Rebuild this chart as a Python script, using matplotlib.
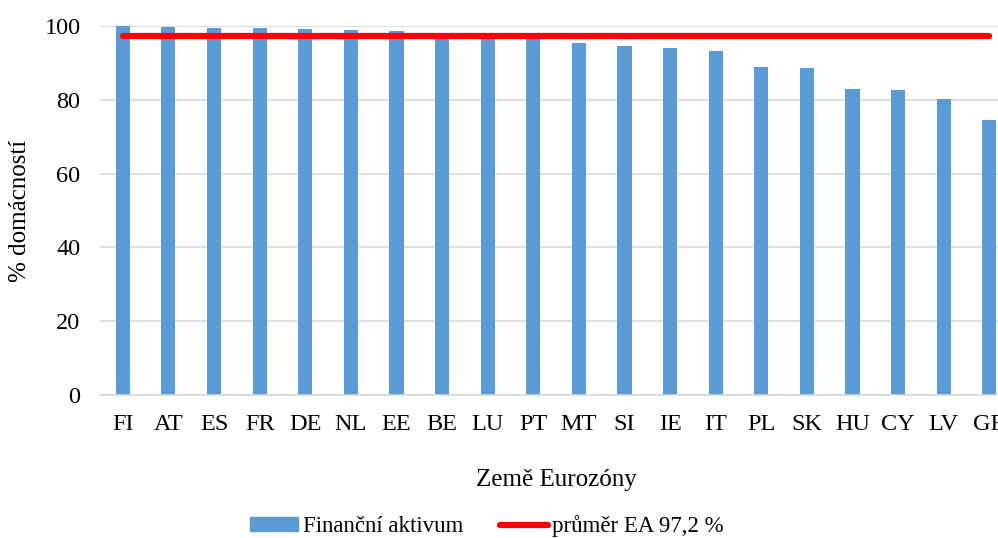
import numpy as np
import matplotlib.pyplot as plt
from matplotlib.lines import Line2D
from matplotlib.patches import Patch

# data
countries = ['FI', 'AT', 'ES', 'FR', 'DE', 'NL', 'EE', 'BE', 'LU', 'PT',
             'MT', 'SI', 'IE', 'IT', 'PL', 'SK', 'HU', 'CY', 'LV', 'GR']
financni_aktivum = [100.0, 99.7, 99.5, 99.5, 99.2, 99.0, 98.6, 97.0, 96.8, 96.5,
                    95.3, 94.5, 94.0, 93.2, 88.9, 88.6, 82.8, 82.6, 80.2, 74.5]
prumer_ea = 97.2

plt.rcParams['font.family'] = ['Liberation Serif', 'DejaVu Serif']

fig = plt.figure(figsize=(9.98, 5.38), dpi=100)
ax = fig.add_axes([0.1002, 0.2658, 0.914, 0.6859])

x = np.arange(len(countries))
ax.bar(x, financni_aktivum, width=0.31, color='#5B9BD5', zorder=2)
ax.plot(x, [prumer_ea] * len(x), color='#FF0000', lw=4.5,
        solid_capstyle='round', zorder=3)

ax.set_xlim(-0.5, len(countries) - 0.5)
ax.set_ylim(0, 100)
ax.set_yticks(range(0, 101, 20))
ax.set_xticks(x)
ax.set_xticklabels(countries)
ax.tick_params(axis='both', length=0, labelsize=17.5)
ax.tick_params(axis='x', pad=14)
ax.tick_params(axis='y', pad=14)
ax.grid(axis='y', color='#D9D9D9', lw=1.2, zorder=0)
for s in ['top', 'right', 'left']:
    ax.spines[s].set_visible(False)
ax.spines['bottom'].set_color('#D9D9D9')
ax.spines['bottom'].set_linewidth(1.2)

ax.set_xlabel('Země Eurozóny', fontsize=18, labelpad=24)
ax.set_ylabel('% domácností', fontsize=18, labelpad=10)

handles = [Patch(color='#5B9BD5'),
           Line2D([0], [0], color='#FF0000', lw=4.5, solid_capstyle='round')]
fig.legend(handles, ['Finanční aktivum', 'průměr EA 97,2 %'],
           loc='center', bbox_to_anchor=(0.488, 0.022), ncol=2, frameon=False,
           fontsize=16.5, handlelength=2.1, handleheight=0.55,
           handletextpad=0.2, columnspacing=1.6, borderpad=0)

fig.savefig('out.png', dpi=100)
